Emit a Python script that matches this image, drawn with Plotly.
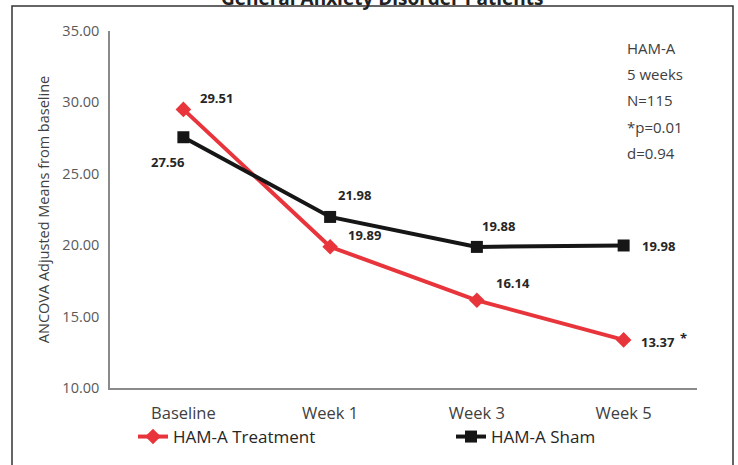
import plotly.graph_objects as go

categories = ["Baseline", "Week 1", "Week 3", "Week 5"]
treatment = [29.51, 19.89, 16.14, 13.37]
sham = [27.56, 21.98, 19.88, 19.98]
treat_marks = ["", "", "", "*"]
info_lines = ["HAM-A", "5 weeks", "N=115", "*p=0.01", "d=0.94"]
title_text = "General Anxiety Disorder Patients"
ytitle = "ANCOVA Adjusted Means from baseline"

# label offsets (px) from marker: (xshift to left edge, yshift)
treat_off = [(15, 11), (16, 12), (17, 17), (15, -2)]
sham_off = [(-34, -25), (6, 22), (3, 21), (16, -1)]

FONT = "Open Sans"
RED = "#E8353B"
BLK = "#161616"

# plot area in pixels
L, R, T, B = 110, 697, 31, 388
W, H = R - L, B - T

def px(x):
    return (x - L) / W

def py(y):
    return (B - y) / H

fig = go.Figure()
fig.add_trace(go.Scatter(
    x=categories, y=treatment, name="HAM-A Treatment", mode="lines+markers",
    line=dict(color=RED, width=4), marker=dict(symbol="diamond", size=12, color=RED),
    legend="legend"))
fig.add_trace(go.Scatter(
    x=categories, y=sham, name="HAM-A Sham", mode="lines+markers",
    line=dict(color=BLK, width=4), marker=dict(symbol="square", size=12, color=BLK),
    legend="legend2"))

annotations = []
lab_font = dict(family=FONT, size=13, color="#262626")
for c, v, m, (dx, dy) in zip(categories, treatment, treat_marks, treat_off):
    annotations.append(dict(x=c, y=v, xref="x", yref="y", text=f"<b>{v:.2f}</b>",
                            showarrow=False, xanchor="left", yanchor="middle",
                            xshift=dx, yshift=dy, font=lab_font))
    if m:
        annotations.append(dict(x=c, y=v, xref="x", yref="y", text=f"<b>{m}</b>",
                                showarrow=False, xanchor="left", yanchor="middle",
                                xshift=dx + 39, yshift=dy + 4, font=lab_font))
for c, v, (dx, dy) in zip(categories, sham, sham_off):
    annotations.append(dict(x=c, y=v, xref="x", yref="y", text=f"<b>{v:.2f}</b>",
                            showarrow=False, xanchor="left", yanchor="middle",
                            xshift=dx, yshift=dy, font=lab_font))

# info box lines
for i, t in enumerate(info_lines):
    yy = 48 + i * 26.2
    annotations.append(dict(x=px(625), y=py(yy), xref="paper", yref="paper",
                            text=t, showarrow=False, xanchor="left", yanchor="middle",
                            font=dict(family=FONT, size=15, color="#404040")))

# partially visible title (cut off at the top, as in the source)
annotations.append(dict(x=px(382), y=py(13), xref="paper", yref="paper",
                        text=f"<b>{title_text}</b>", showarrow=False, xanchor="center",
                        yanchor="bottom", font=dict(family=FONT, size=19, color="#222222")))

shapes = [dict(type="rect", xref="paper", yref="paper",
               x0=px(12), x1=px(733), y0=py(520), y1=py(6),
               line=dict(color="#333333", width=1.5))]

leg_common = dict(orientation="h", xanchor="left", yanchor="middle",
                  font=dict(family=FONT, size=17, color="#262626"),
                  bgcolor="rgba(0,0,0,0)", itemclick=False, itemdoubleclick=False)

fig.update_layout(
    width=738, height=465,
    margin=dict(l=L, r=738 - R, t=T, b=465 - B, autoexpand=False),
    paper_bgcolor="white", plot_bgcolor="white",
    font=dict(family=FONT, size=14, color="#404040"),
    showlegend=True,
    legend=dict(x=px(133), y=py(437), **leg_common),
    legend2=dict(x=px(451), y=py(437), **leg_common),
    annotations=annotations,
    shapes=shapes,
    xaxis=dict(range=[-0.5, 3.5], showline=True, linecolor="#8a8a8a", linewidth=1.5,
               showgrid=False, zeroline=False, ticks="", ticklabelstandoff=9,
               tickfont=dict(family=FONT, size=16.5, color="#404040")),
    yaxis=dict(range=[10, 35], tickvals=[10, 15, 20, 25, 30, 35],
               tickformat=".2f", showline=True, linecolor="#8a8a8a", linewidth=1.5,
               showgrid=False, zeroline=False, ticks="", ticklabelstandoff=6,
               tickfont=dict(family=FONT, size=14.5, color="#595959"),
               title=dict(text=ytitle, standoff=9,
                          font=dict(family=FONT, size=14.5, color="#404040"))),
)

fig.write_html("out.html", config={"displayModeBar": False},
               post_script="document.body.style.margin='0';document.body.style.overflow='hidden';")
